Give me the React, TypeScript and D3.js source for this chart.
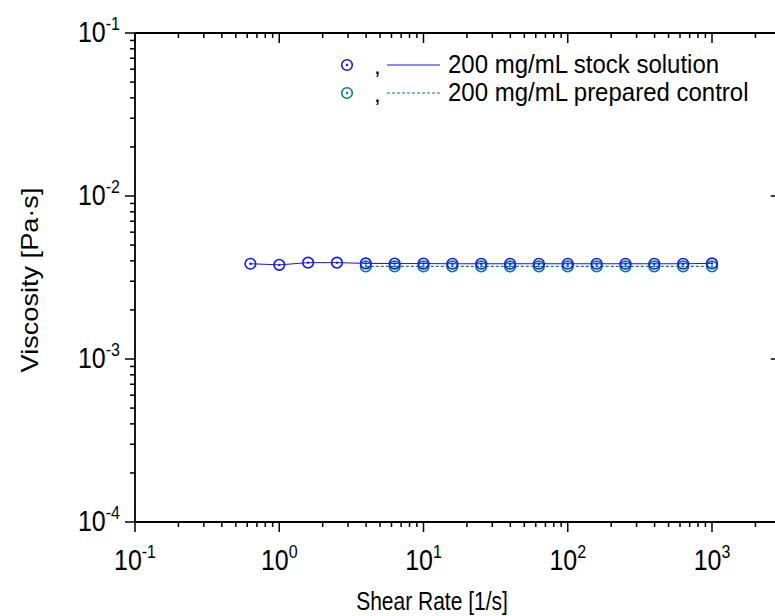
import React from 'react';
import * as d3 from 'd3';

const stockRate = [0.631, 1, 1.585, 2.512, 3.981, 6.31, 10, 15.85, 25.12, 39.81, 63.1, 100, 158.5, 251.2, 398.1, 631, 1000];
const stockVisc = [0.00384, 0.00378, 0.0039, 0.0039, 0.00386, 0.00385, 0.00385, 0.00384, 0.00384, 0.00384, 0.00384, 0.00384, 0.00384, 0.00384, 0.00384, 0.00384, 0.00386];
const controlRate = [3.981, 6.31, 10, 15.85, 25.12, 39.81, 63.1, 100, 158.5, 251.2, 398.1, 631, 1000];
const controlVisc = [0.0037, 0.0037, 0.0037, 0.0037, 0.0037, 0.0037, 0.0037, 0.0037, 0.0037, 0.0037, 0.0037, 0.0037, 0.0037];
const xTickExps = [-1, 0, 1, 2, 3];
const yTickExps = [-4, -3, -2, -1];
const xTitle = 'Shear Rate [1/s]';
const yTitle = 'Viscosity [Pa·s]';
const legendLabels = ['200 mg/mL stock solution', '200 mg/mL prepared control'];

const BLUE = '#1414ff';
const TEAL = '#008080';
const FONT = '"Liberation Sans", Arial, sans-serif';

function Marker({ cx, cy, color }: { cx: number; cy: number; color: string }) {
  return (
    <g>
      <circle cx={cx} cy={cy} r={5.3} fill="none" stroke={color} strokeWidth={1.6} />
      <circle cx={cx} cy={cy} r={1.2} fill={color} />
    </g>
  );
}

export default function App() {
  const W = 775, H = 616;
  const left = 135, top = 33, bottom = 522;
  const dec = 144.25;
  const x = d3.scaleLog().domain([0.1, 3000]).range([left, left + dec * Math.log10(30000)]);
  const y = d3.scaleLog().domain([1e-4, 1e-1]).range([bottom, top]);
  const right = x(3000);

  const xt = x.ticks();
  const yt = y.ticks();
  const isMajor = (v: number) => Math.abs(Math.log10(v) - Math.round(Math.log10(v))) < 1e-6;

  const line = d3.line<[number, number]>().x(d => x(d[0])).y(d => y(d[1]));
  const stockPts: [number, number][] = stockRate.map((r, i) => [r, stockVisc[i]]);
  const ctrlPts: [number, number][] = controlRate.map((r, i) => [r, controlVisc[i]]);

  const sy = 1.2;

  return (
    <svg width={W} height={H} style={{ position: 'absolute', left: 0, top: 0, background: '#fff' }} fontFamily={FONT}>
      <rect x={0} y={0} width={W} height={H} fill="#fff" />
      <g stroke="#000" strokeWidth={1.8} fill="none">
        <line x1={left} y1={top} x2={right} y2={top} />
        <line x1={left} y1={bottom} x2={right} y2={bottom} />
        <line x1={left} y1={top} x2={left} y2={bottom} />
        <line x1={right} y1={top} x2={right} y2={bottom} />
      </g>
      <g stroke="#000" strokeWidth={1.5}>
        {xt.map((v, i) => {
          const L = isMajor(v) ? 10 : 5;
          const px = x(v);
          return (
            <g key={i}>
              <line x1={px} y1={bottom} x2={px} y2={bottom + L} />
              <line x1={px} y1={top} x2={px} y2={top + L} />
            </g>
          );
        })}
        {yt.map((v, i) => {
          const L = isMajor(v) ? 10 : 5;
          const py = y(v);
          return (
            <g key={i}>
              <line x1={left} y1={py} x2={left - L} y2={py} />
              <line x1={right} y1={py} x2={right - L} y2={py} />
            </g>
          );
        })}
      </g>
      {xTickExps.map(e => (
        <g key={e} transform={`translate(${x(Math.pow(10, e))},570) scale(1,${sy})`}>
          <text x={0} y={0} textAnchor="middle" fontSize={25} fill="#000">
            10<tspan fontSize={16} dy={-10}>{e}</tspan>
          </text>
        </g>
      ))}
      {yTickExps.map(e => (
        <g key={e} transform={`translate(${left - 15},${y(Math.pow(10, e)) + 9}) scale(1,${sy})`}>
          <text x={0} y={0} textAnchor="end" fontSize={25} fill="#000">
            10<tspan fontSize={16} dy={-10}>{e}</tspan>
          </text>
        </g>
      ))}
      <g transform={`translate(432,610) scale(1,${sy})`}>
        <text textAnchor="middle" fontSize={21} fill="#000">{xTitle}</text>
      </g>
      <g transform={`translate(38,280) rotate(-90) scale(1.18,1)`}>
        <text textAnchor="middle" fontSize={23} fill="#000">{yTitle}</text>
      </g>
      <path d={line(stockPts) || ''} fill="none" stroke={BLUE} strokeWidth={1} />
      <path d={line(ctrlPts) || ''} fill="none" stroke={TEAL} strokeWidth={1.2} strokeDasharray="3,2" />
      {ctrlPts.map((p, i) => <Marker key={'c' + i} cx={x(p[0])} cy={y(p[1])} color={TEAL} />)}
      {stockPts.map((p, i) => <Marker key={'s' + i} cx={x(p[0])} cy={y(p[1])} color={BLUE} />)}
      {legendLabels.map((lab, i) => {
        const ly = 65 + i * 28;
        const c = i === 0 ? BLUE : TEAL;
        return (
          <g key={i}>
            <Marker cx={347} cy={ly} color={c} />
            <text x={374} y={ly + 9} fontSize={24} fill="#000">,</text>
            <line x1={387} y1={ly} x2={440} y2={ly} stroke={c} strokeWidth={i === 0 ? 1 : 1.2} strokeDasharray={i === 0 ? undefined : '3,2'} />
            <g transform={`translate(448,${ly + 8}) scale(1,1.08)`}>
              <text x={0} y={0} fontSize={24} fill="#000">{lab}</text>
            </g>
          </g>
        );
      })}
    </svg>
  );
}
